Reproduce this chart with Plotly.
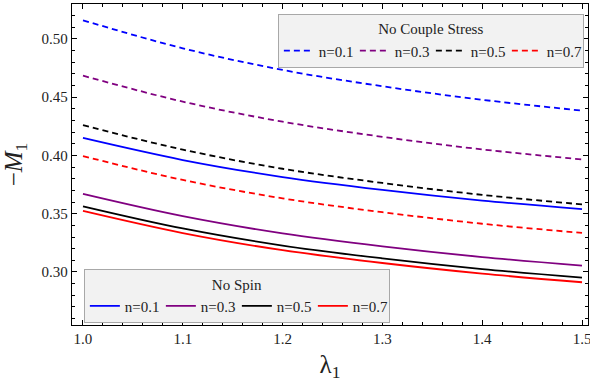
import plotly.graph_objects as go

lam = [1.0, 1.1, 1.2, 1.3, 1.4, 1.5]
n_labels = ["n=0.1", "n=0.3", "n=0.5", "n=0.7"]
colors = ["#0000ff", "#800080", "#000000", "#ff0000"]

# No Couple Stress (dashed)
ncs = [
    [0.516, 0.492, 0.4734, 0.4594, 0.4478, 0.4385],
    [0.4685, 0.4462, 0.4290, 0.4160, 0.4052, 0.3966],
    [0.426, 0.405, 0.3886, 0.3764, 0.3662, 0.358],
    [0.3995, 0.379, 0.3632, 0.3513, 0.3414, 0.3335],
]
# No Spin (solid)
nsp = [
    [0.415, 0.3961, 0.3815, 0.3705, 0.3613, 0.354],
    [0.367, 0.3479, 0.3331, 0.322, 0.3128, 0.3054],
    [0.3564, 0.3374, 0.3227, 0.3117, 0.3025, 0.2951],
    [0.3524, 0.3334, 0.3187, 0.3077, 0.2986, 0.2912],
]

fig = go.Figure()
for i in range(4):
    fig.add_trace(go.Scatter(x=lam, y=ncs[i], mode="lines", name=n_labels[i],
                             line=dict(color=colors[i], width=1.8, dash="6px,4px", shape="spline"),
                             legend="legend"))
for i in range(4):
    fig.add_trace(go.Scatter(x=lam, y=nsp[i], mode="lines", name=n_labels[i],
                             line=dict(color=colors[i], width=1.8, shape="spline"),
                             legend="legend2"))

font = "Liberation Serif, Times New Roman, serif"
axis_common = dict(showline=True, linecolor="black", linewidth=1.3, mirror="allticks",
                   ticks="inside", ticklen=5, tickcolor="black", showgrid=False, zeroline=False,
                   ticklabeloverflow="allow", automargin=False,
                   tickfont=dict(family=font, size=15, color="#222"))
fig.update_layout(
    width=590, height=382,
    margin=dict(l=72, r=2, t=4, b=57, autoexpand=False),
    plot_bgcolor="white", paper_bgcolor="white",
    font=dict(family=font, size=15, color="#222"),
    xaxis=dict(range=[0.989, 1.506], tickvals=[1.0, 1.1, 1.2, 1.3, 1.4, 1.5], tickformat=".1f",
               minor=dict(ticks="inside", dtick=0.02, ticklen=3, tickcolor="black"),
               title=dict(text="λ<sub>1</sub>", font=dict(family=font, size=25, color="#222"), standoff=10),
               **axis_common),
    yaxis=dict(range=[0.2545, 0.530], tickvals=[0.30, 0.35, 0.40, 0.45, 0.50], tickformat=".2f",
               minor=dict(ticks="inside", dtick=0.01, ticklen=3, tickcolor="black"),
               title=dict(text="−<i>M</i><sub>1</sub>", font=dict(family=font, size=25, color="#222"), standoff=12),
               **axis_common),
    legend=dict(x=0.992, y=0.969, xanchor="right", yanchor="top", orientation="h",
                bgcolor="#f2f2f2", bordercolor="#a8a8a8", borderwidth=1,
                title=dict(text="No Couple Stress", side="top center", font=dict(family=font, size=15)),
                font=dict(family=font, size=15), entrywidth=31),
    legend2=dict(x=0.023, y=0.174, xanchor="left", yanchor="top", orientation="h",
                 bgcolor="#f2f2f2", bordercolor="#a8a8a8", borderwidth=1,
                 title=dict(text="No Spin", side="top center", font=dict(family=font, size=15)),
                 font=dict(family=font, size=15), entrywidth=31),
)
fig.write_html("out.html")
